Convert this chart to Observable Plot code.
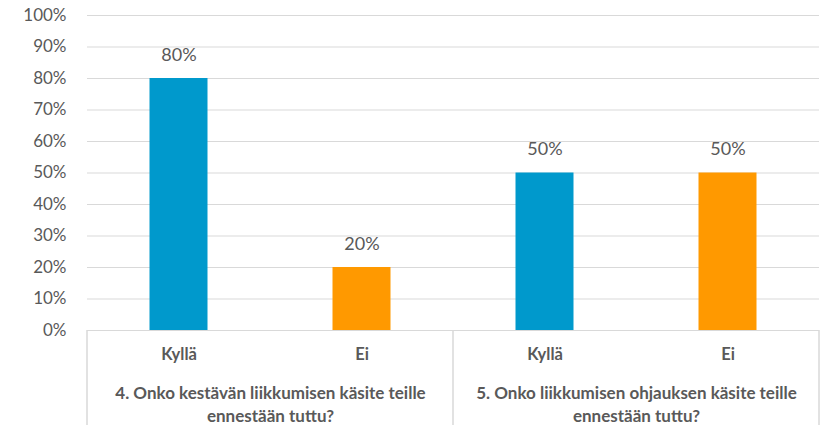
<!DOCTYPE html>
<html>
<head>
<meta charset="utf-8">
<script src="https://cdn.jsdelivr.net/npm/d3@7"></script>
<script src="https://cdn.jsdelivr.net/npm/@observablehq/plot@0.6"></script>
<style>
  html, body { margin: 0; padding: 0; background: #fff; }
</style>
</head>
<body>
<div id="chart"></div>
<script>
const questions = [
  "4. Onko kestävän liikkumisen käsite teille\nennestään tuttu?",
  "5. Onko liikkumisen ohjauksen käsite teille\nennestään tuttu?"
];
const answers = ["Kyllä", "Ei"];
const q4Values = [0.8, 0.2];
const q5Values = [0.5, 0.5];
const colors = ["#0099CC", "#FF9900"];
const yTicks = [0, 0.1, 0.2, 0.3, 0.4, 0.5, 0.6, 0.7, 0.8, 0.9, 1.0];

const data = [];
[q4Values, q5Values].forEach((vals, qi) => {
  vals.forEach((v, ai) => data.push({q: questions[qi], a: answers[ai], v}));
});

const fmt = d3.format(".0%");
const gray = "#595959";
const lineColor = "#d9d9d9";

const plot = Plot.plot({
  width: 823,
  height: 425,
  marginLeft: 87,
  marginRight: 4,
  marginTop: 15,
  marginBottom: 95,
  style: {fontFamily: "Lato, 'Open Sans', sans-serif", color: gray, background: "white", overflow: "visible"},
  fx: {domain: questions, padding: 0, label: null},
  x: {domain: answers, padding: 0, label: null},
  y: {domain: [0, 1], label: null},
  color: {domain: answers, range: colors},
  marks: [
    Plot.gridY(yTicks, {stroke: lineColor, strokeOpacity: 1, strokeWidth: 1}),
    Plot.barY(data, {fx: "q", x: "a", y: "v", fill: "a", insetLeft: 62.5, insetRight: 62.5}),
    Plot.text(data, {fx: "q", x: "a", y: "v", text: d => fmt(d.v), lineAnchor: "bottom", dy: -18, fontSize: 18, fill: gray}),
    Plot.axisY(yTicks, {tickSize: 0, tickPadding: 21, tickFormat: fmt, fontSize: 17, label: null, fill: gray}),
    Plot.axisX({tickSize: 0, tickPadding: 18, fontSize: 16.5, fontWeight: "bold", label: null, fill: gray}),
    Plot.axisFx({anchor: "bottom", tickSize: 0, tickPadding: 52, fontSize: 17, fontWeight: "bold", lineHeight: 1.36, label: null, fill: gray})
  ]
});

// category-axis separators from the facet scale
const fx = plot.scale("fx");
const y = plot.scale("y");
const edges = [];
questions.forEach((q, i) => {
  const x0 = fx.apply(q);
  if (i === 0) edges.push(x0);
  edges.push(x0 + fx.bandwidth);
});
const y0 = y.apply(0);
const svg = d3.select(plot);
svg.append("g")
  .selectAll("line")
  .data(edges)
  .join("line")
  .attr("x1", d => d).attr("x2", d => d)
  .attr("y1", y0).attr("y2", 425)
  .attr("stroke", lineColor)
  .attr("stroke-width", 1.5);

document.getElementById("chart").appendChild(plot);
</script>
</body>
</html>
